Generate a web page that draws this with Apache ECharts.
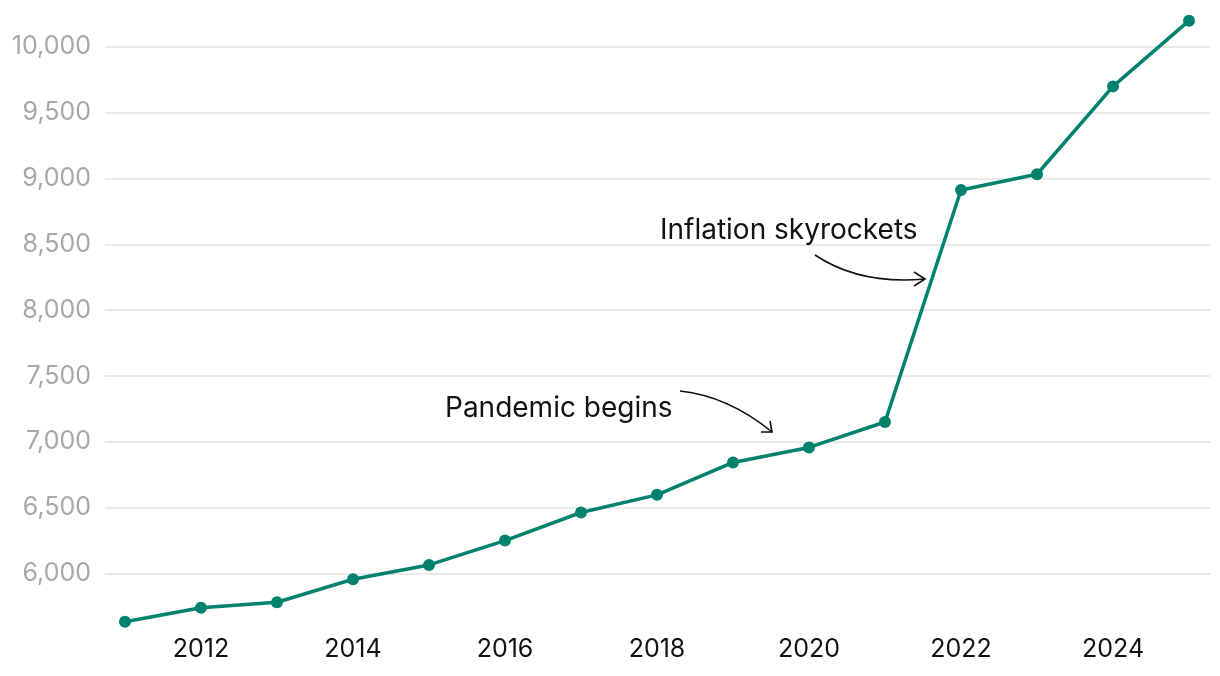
<!DOCTYPE html>
<html>
<head>
<meta charset="utf-8">
<script src="https://cdn.jsdelivr.net/npm/echarts@6/dist/echarts.min.js"></script>
<style>
html,body{margin:0;padding:0;background:#fff;}
#chart{width:1220px;height:676px;}
</style>
</head>
<body>
<div id="chart"></div>
<script>
const years = [2011,2012,2013,2014,2015,2016,2017,2018,2019,2020,2021,2022,2023,2024,2025];
const values = [5635,5741,5783,5957,6066,6251,6464,6598,6844,6958,7151,8912,9032,9699,10198];
const annotations = [
  { text: 'Pandemic begins' },
  { text: 'Inflation skyrockets' }
];

const FONT = 'Inter';
const LINE = '#00826f';
const chart = echarts.init(document.getElementById('chart'), null, {renderer: 'canvas'});

chart.setOption({
  animation: false,
  backgroundColor: '#ffffff',
  grid: { left: 105, right: 10, top: 13.8, bottom: 43.1, containLabel: false },
  xAxis: {
    type: 'value',
    min: 2010.737,
    max: 2025.276,
    splitNumber: 7,
    axisLine: { show: false },
    axisTick: { show: false },
    splitLine: { show: false },
    axisLabel: {
      showMinLabel: false,
      showMaxLabel: false,
      margin: 4,
      color: '#111111',
      fontFamily: FONT,
      fontSize: 25,
      formatter: v => (Number.isInteger(v) ? String(v) : '')
    }
  },
  yAxis: {
    type: 'value',
    min: 5550,
    max: 10250,
    splitNumber: 9,
    axisLine: { show: false },
    axisTick: { show: false },
    splitLine: { show: true, showMinLine: false, showMaxLine: false, lineStyle: { color: '#e3e3e3', width: 1.5 } },
    axisLabel: {
      showMinLabel: false,
      showMaxLabel: false,
      margin: 14,
      color: '#a8a8a8',
      fontFamily: FONT,
      fontSize: 25,
      formatter: v => (v % 500 === 0 ? v.toLocaleString('en-US') : '')
    }
  },
  series: [{
    type: 'line',
    data: years.map((y, i) => [y, values[i]]),
    symbol: 'circle',
    symbolSize: 12,
    itemStyle: { color: LINE },
    lineStyle: { color: LINE, width: 3.5 },
    z: 3
  }]
});

const arrowStyle = { stroke: '#111', lineWidth: 1.6, fill: null };
chart.setOption({
  graphic: [
    { type: 'text', style: { x: 445, y: 409, text: annotations[0].text, font: '400 28px Inter', fill: '#111111', verticalAlign: 'middle' } },
    { type: 'text', style: { x: 660, y: 231, text: annotations[1].text, font: '400 28px Inter', fill: '#111111', verticalAlign: 'middle' } },
    { type: 'bezierCurve', shape: { x1: 680, y1: 391, cpx1: 728, cpy1: 396, x2: 772, y2: 432 }, style: arrowStyle },
    { type: 'polyline', shape: { points: [[761, 432], [772, 432], [770, 421]] }, style: arrowStyle },
    { type: 'bezierCurve', shape: { x1: 815, y1: 255, cpx1: 860, cpy1: 285, x2: 925, y2: 279 }, style: arrowStyle },
    { type: 'polyline', shape: { points: [[914, 272], [925, 279], [914, 286]] }, style: arrowStyle }
  ]
});
</script>
</body>
</html>
